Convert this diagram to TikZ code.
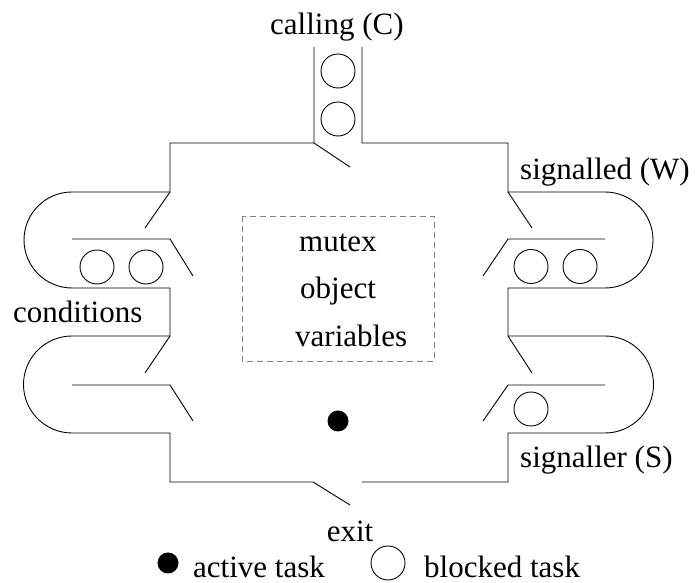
\documentclass[tikz,border=0pt]{standalone}
\usepackage{fontspec}
\setmainfont{Liberation Serif}
\usetikzlibrary{positioning}

\begin{document}
\begin{tikzpicture}[
    x=1pt, y=1pt,
    wall/.style={line width=0.9pt, line join=miter},
    blocked/.style={circle, draw, line width=0.9pt, minimum size=34pt, inner sep=0pt},
    active/.style={circle, fill=black, minimum size=21pt, inner sep=0pt},
    label/.style={font=\fontsize{31}{36}\selectfont, inner sep=0pt, anchor=base west},
    data/.style={draw=gray, dashed, dash pattern=on 6pt off 4pt, line width=0.9pt}
]
    \useasboundingbox (0,0) rectangle (696,583);

    % Monitor walls
    \draw[wall] (314,536) -- (314,440) -- (170,440) -- (170,391) -- (72,391)
        arc[start angle=90, end angle=270, radius=48] -- (170,295) -- (170,247) -- (72,247)
        arc[start angle=90, end angle=270, radius=48.5] -- (170,150) -- (170,101) -- (313,101);
    \draw[wall] (362,536) -- (362,440) -- (508,440) -- (508,391) -- (605,391)
        arc[start angle=90, end angle=-90, radius=48] -- (508,295) -- (508,247) -- (605,247)
        arc[start angle=90, end angle=-90, radius=48.5] -- (508,150) -- (508,101) -- (362,101);

    % Gates
    \draw[wall] (314,440) -- (350,416);
    \draw[wall] (313,101) -- (350,78);
    \draw[wall] (170,391) -- (145,355);
    \draw[wall] (72,344) -- (170,344) -- (193,307);
    \draw[wall] (170,247) -- (145,210);
    \draw[wall] (72,198) -- (170,198) -- (193,162);
    \draw[wall] (508,391) -- (532,355);
    \draw[wall] (605,344) -- (508,344) -- (483,307);
    \draw[wall] (508,247) -- (532,210);
    \draw[wall] (605,198) -- (508,198) -- (483,162);

    % Tasks
    \node[blocked] (call1) at (338,512) {};
    \node[blocked] (call2) at (338,464) {};
    \node[blocked] (cond1) at (97,316) {};
    \node[blocked] (cond2) at (146,316) {};
    \node[blocked] (wait1) at (531,316.5) {};
    \node[blocked] (wait2) at (580,316.5) {};
    \node[blocked] (sig1) at (531,174) {};
    \node[active] (task) at (338,162) {};

    % Mutex variables
    \draw[data] (242,367) rectangle (434,222);
    \node[label] (mutex) at (299,331) {mutex};
    \node[label] (object) at (300,284) {object};
    \node[label] (vars) at (295,236) {variables};

    % Labels
    \node[label] (calling) at (270,548) {calling (C)};
    \node[label] (signalled) at (520,403) {signalled (W)};
    \node[label] (signaller) at (520,115) {signaller (S)};
    \node[label] (conditions) at (13,260) {conditions};
    \node[label, anchor=base] (exit) at (350,41) {exit};

    % Legend
    \node[active] (keyactive) at (168,20) {};
    \node[label] (activetext) at (193,5.5) {active task};
    \node[blocked] (keyblocked) at (388,20) {};
    \node[label] (blockedtext) at (424,5.5) {blocked task};
\end{tikzpicture}
\end{document}
